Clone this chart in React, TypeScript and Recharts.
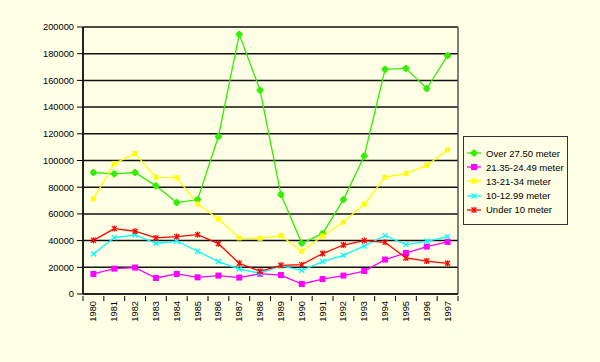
import { LineChart, Line, XAxis, YAxis, CartesianGrid } from 'recharts';

const years = ['1980', '1981', '1982', '1983', '1984', '1985', '1986', '1987', '1988', '1989',
  '1990', '1991', '1992', '1993', '1994', '1995', '1996', '1997'];

const over2750 = [91000, 90000, 91000, 81000, 68500, 70700, 118000, 194500, 152600, 74500,
  38000, 45200, 70700, 103400, 168300, 169000, 153900, 178600];
const m2135 = [15000, 19000, 19800, 12000, 15000, 12500, 13800, 12300, 15200, 14200,
  7500, 11200, 13800, 17200, 25800, 30700, 35500, 39000];
const m1321 = [71200, 97700, 105200, 87400, 87200, 67400, 56200, 42000, 41700, 43700,
  32000, 43400, 53900, 67200, 87600, 90200, 96400, 107900];
const m1012 = [30000, 42200, 44200, 38000, 39500, 32000, 24300, 18700, 15500, 21000,
  17700, 24300, 29000, 36000, 43700, 37000, 39500, 43000];
const under10 = [40200, 49000, 47000, 42000, 43000, 44500, 37700, 23000, 17000, 21500,
  22000, 30300, 36700, 40000, 38700, 27000, 24700, 23000];

const yTicks = [0, 20000, 40000, 60000, 80000, 100000, 120000, 140000, 160000, 180000, 200000];

const data = years.map((year, i) => ({
  year,
  over2750: over2750[i],
  m2135: m2135[i],
  m1321: m1321[i],
  m1012: m1012[i],
  under10: under10[i],
}));

const BG = '#FFFFE6';
const FONT = '"Liberation Sans", Arial, sans-serif';

type Shape = 'star' | 'square' | 'diamond' | 'cross' | 'asterisk';

const series: { key: string; name: string; color: string; shape: Shape }[] = [
  { key: 'over2750', name: 'Over 27.50 meter', color: '#33EE00', shape: 'star' },
  { key: 'm2135', name: '21.35-24.49 meter', color: '#FF00FF', shape: 'square' },
  { key: 'm1321', name: '13-21-34 meter', color: '#FFFF00', shape: 'diamond' },
  { key: 'm1012', name: '10-12.99 meter', color: '#00FFFF', shape: 'cross' },
  { key: 'under10', name: 'Under 10 meter', color: '#FF0000', shape: 'asterisk' },
];

function Marker({ cx, cy, color, shape }: { cx: number; cy: number; color: string; shape: Shape }) {
  if (cx == null || cy == null) return null;
  switch (shape) {
    case 'square':
      return <rect x={cx - 3} y={cy - 3} width={6} height={6} fill={color} />;
    case 'diamond':
      return <rect x={cx - 2.5} y={cy - 2.5} width={5} height={5} fill={color} />;
    case 'star':
      return (
        <g stroke={color} strokeWidth={2}>
          <line x1={cx - 3.5} y1={cy} x2={cx + 3.5} y2={cy} />
          <line x1={cx} y1={cy - 3.5} x2={cx} y2={cy + 3.5} />
          <rect x={cx - 1.5} y={cy - 1.5} width={3} height={3} fill={color} />
        </g>
      );
    case 'cross':
      return (
        <g stroke={color} strokeWidth={1.3}>
          <line x1={cx - 2.5} y1={cy - 2.5} x2={cx + 2.5} y2={cy + 2.5} />
          <line x1={cx - 2.5} y1={cy + 2.5} x2={cx + 2.5} y2={cy - 2.5} />
        </g>
      );
    default:
      return (
        <g stroke={color} strokeWidth={1.3}>
          <line x1={cx - 2.5} y1={cy - 2.5} x2={cx + 2.5} y2={cy + 2.5} />
          <line x1={cx - 2.5} y1={cy + 2.5} x2={cx + 2.5} y2={cy - 2.5} />
          <line x1={cx} y1={cy - 3} x2={cx} y2={cy + 3} />
        </g>
      );
  }
}

// year label plus tick marks at the category boundaries
function YearTick({ x, y, payload, index }: any) {
  const half = payload.offset ?? 0;
  const top = y - 6;
  return (
    <g>
      <line x1={x - half} y1={top} x2={x - half} y2={top + 5} stroke="#000" />
      {index === years.length - 1 && (
        <line x1={x + half} y1={top} x2={x + half} y2={top + 5} stroke="#000" />
      )}
      <text
        x={0}
        y={0}
        transform={`translate(${x},${y - 1}) rotate(-90)`}
        textAnchor="end"
        dominantBaseline="central"
        fontSize={9.3}
        fontFamily={FONT}
        fill="#000"
      >
        {payload.value}
      </text>
    </g>
  );
}

export default function App() {
  return (
    <div style={{ position: 'relative', width: 600, height: 362, background: BG, fontFamily: FONT }}>
      <style>{'body{margin:0}'}</style>
      <LineChart width={600} height={362} data={data} margin={{ top: 27, right: 142, bottom: 18, left: 0 }}>
        <CartesianGrid vertical={false} stroke="#111" strokeWidth={1.5} />
        <CartesianGrid
          horizontal={false}
          stroke="#555"
          strokeWidth={1.5}
          verticalCoordinatesGenerator={({ offset }: any) => [offset.left + offset.width]}
        />
        <XAxis
          dataKey="year"
          scale="band"
          interval={0}
          tickLine={false}
          axisLine={{ stroke: '#222', strokeWidth: 2 }}
          tick={<YearTick />}
          height={50}
        />
        <YAxis
          domain={[0, 200000]}
          ticks={yTicks}
          interval={0}
          width={83}
          tickSize={6}
          tickMargin={3}
          axisLine={{ stroke: '#222', strokeWidth: 2 }}
          tickLine={{ stroke: '#000' }}
          tick={{ fill: '#000', fontSize: 9.3, fontFamily: FONT }}
        />
        {series.map((s) => (
          <Line
            key={s.key}
            dataKey={s.key}
            name={s.name}
            stroke={s.color}
            strokeWidth={1.3}
            dot={(p: any) => <Marker key={`${s.key}-${p.index}`} cx={p.cx} cy={p.cy} color={s.color} shape={s.shape} />}
            activeDot={false}
            isAnimationActive={false}
          />
        ))}
      </LineChart>
      <div
        style={{
          position: 'absolute',
          left: 463,
          top: 136,
          width: 105,
          height: 89,
          border: '1px solid #333',
          boxSizing: 'border-box',
          paddingTop: 9,
        }}
      >
        {series.map((s) => (
          <div key={s.key} style={{ display: 'flex', alignItems: 'center', height: 14.2 }}>
            <svg width={22} height={10} style={{ flex: 'none' }}>
              <line x1={3} y1={5} x2={17} y2={5} stroke={s.color} strokeWidth={1.3} />
              <Marker cx={10} cy={5} color={s.color} shape={s.shape} />
            </svg>
            <span style={{ fontSize: 9.5, color: '#000', whiteSpace: 'nowrap' }}>{s.name}</span>
          </div>
        ))}
      </div>
    </div>
  );
}
